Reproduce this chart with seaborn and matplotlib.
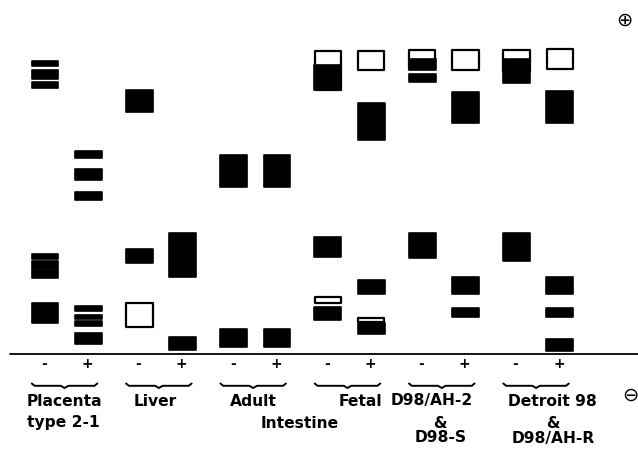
"""
Electrophoresis zymogram sketch: band positions per sample, with (-) and (+)
lanes for each tissue / cell line. Migration distance measured from origin.
"""
import numpy as np
import matplotlib
matplotlib.use('Agg')
import matplotlib.pyplot as plt
import seaborn as sns

# ---- data -----------------------------------------------------------------
groups = ['Placenta', 'Liver', 'Adult', 'Fetal', 'D98/AH-2', 'Detroit 98']
signs = ['-', '+']

# bands: lane index (2*group + sign), low, high (migration units), kind
band_group = [0, 0, 0, 0, 0, 0, 0,
              1, 1, 1, 1, 1, 1, 1,
              2, 2, 2,
              3, 3,
              4, 4, 5, 5,
              6, 6, 6, 6, 6,
              7, 7, 7, 7, 7,
              8, 8, 8, 8,
              9, 9, 9, 9,
              10, 10, 10, 10,
              11, 11, 11, 11, 11]
band_low = [287.5, 274.0, 265.0, 94.0, 84.5, 75.5, 30.5,
            195.5, 173.5, 153.0, 42.0, 34.0, 27.5, 9.5,
            241.5, 90.5, 25.5,
            76.5, 3.5,
            166.5, 6.5, 166.5, 6.5,
            263.0, 263.0, 96.5, 49.5, 33.0,
            282.5, 213.5, 59.0, 30.5, 19.5,
            283.5, 283.5, 271.0, 95.5,
            283.0, 230.5, 59.5, 36.5,
            280.5, 280.5, 270.5, 92.5,
            284.0, 230.5, 59.5, 36.5, 2.5]
band_high = [293.0, 283.5, 271.5, 100.0, 92.5, 84.0, 51.0,
             203.0, 184.5, 161.5, 47.5, 39.0, 33.0, 20.5,
             263.5, 104.5, 51.5,
             120.5, 17.0,
             198.5, 24.5, 198.5, 24.5,
             303.5, 288.5, 116.5, 57.5, 47.0,
             303.5, 250.5, 73.5, 36.5, 31.0,
             304.0, 295.0, 280.0, 120.5,
             304.0, 261.5, 76.5, 45.5,
             304.0, 295.0, 280.0, 120.5,
             305.0, 262.5, 76.5, 45.5, 14.5]
band_kind = ['solid', 'solid', 'solid', 'solid', 'solid', 'solid', 'solid',
             'solid', 'solid', 'solid', 'solid', 'solid', 'solid', 'solid',
             'solid', 'solid', 'open',
             'solid', 'solid',
             'solid', 'solid', 'solid', 'solid',
             'open', 'solid', 'solid', 'open', 'solid',
             'open', 'solid', 'solid', 'open', 'solid',
             'open', 'solid', 'solid', 'solid',
             'open', 'solid', 'solid', 'solid',
             'open', 'solid', 'solid', 'solid',
             'open', 'solid', 'solid', 'solid', 'solid']

label_text = ['Placenta', 'type 2-1', 'Liver', 'Adult', 'Intestine', 'Fetal',
              'D98/AH-2', '&', 'D98-S', 'Detroit 98', '&', 'D98/AH-R']
label_x = [-0.19, -0.19, 1.166, 2.206, 2.704, 3.346,
           4.104, 4.189, 4.199, 5.376, 5.387, 5.387]
label_row = [0, 1, 0, 0, 1, 0, 0, 1, 2, 0, 1, 2]
label_ha = ['left', 'left', 'center', 'center', 'center', 'center',
            'center', 'center', 'center', 'center', 'center', 'center']

# ---- layout ---------------------------------------------------------------
pair_offset = 0.46   # '+' lane sits this far right of the '-' lane
lane_width = 0.30
row_y = [-52.0, -74.0, -89.0]

sns.set_style('white')
plt.rcParams['font.family'] = ['DejaVu Sans']
plt.rcParams['text.color'] = 'black'

fig = plt.figure(figsize=(6.38, 4.51), dpi=100)
ax = fig.add_axes([0, 0, 1, 1])
ax.set_xlim(-45 / 94.3, (638 - 45) / 94.3)
ax.set_ylim(353.5 - 451, 353.5)
ax.axis('off')

lane = np.array(band_group)
lane_x = lane // 2 + pair_offset * (lane % 2)
low = np.array(band_low)
high = np.array(band_high)
kind = np.array(band_kind)

for k in range(len(lane_x)):
    if kind[k] == 'open':
        ax.bar(lane_x[k], high[k] - low[k] - 1.5, bottom=low[k] + 0.75,
               width=lane_width - 0.02, color='white', edgecolor='black',
               linewidth=1.6, joinstyle='round', zorder=2 + k * 0.01)
    else:
        ax.bar(lane_x[k], high[k] - low[k] - 0.6, bottom=low[k] + 0.3,
               width=lane_width - 0.015, color='black', edgecolor='black',
               linewidth=1.2, joinstyle='round', zorder=2 + k * 0.01)

# origin line
ax.axhline(0, xmin=10 / 638, xmax=1, color='black', lw=1.3)

# lane signs and braces
for g in range(len(groups)):
    for s, sign in enumerate(signs):
        ax.text(g + pair_offset * s - 0.01, -10.5, sign, ha='center', va='center',
                fontsize=10, fontweight='bold', color='black')
    left = g - 0.14
    right = g + pair_offset + 0.095
    mid = (left + right) / 2
    bx = [left, left + 0.03, mid - 0.04, mid, mid + 0.04, right - 0.03, right]
    by = [-30.0, -32.3, -32.3, -34.5, -32.3, -32.3, -30.0]
    ax.plot(bx, by, color='black', lw=1.4, solid_capstyle='round')

for t, x, r, ha in zip(label_text, label_x, label_row, label_ha):
    ax.text(x, row_y[r], t, ha=ha, va='baseline', fontsize=11.2,
            fontweight='bold', color='black')

# electrode polarity marks
ax.text((624 - 45) / 94.3, 333.5, '\u2295', ha='center', va='center',
        fontsize=14, color='black')
ax.text((630.5 - 45) / 94.3, -42.0, '\u2296', ha='center', va='center',
        fontsize=14, color='black')

fig.savefig('out.png', dpi=100)
